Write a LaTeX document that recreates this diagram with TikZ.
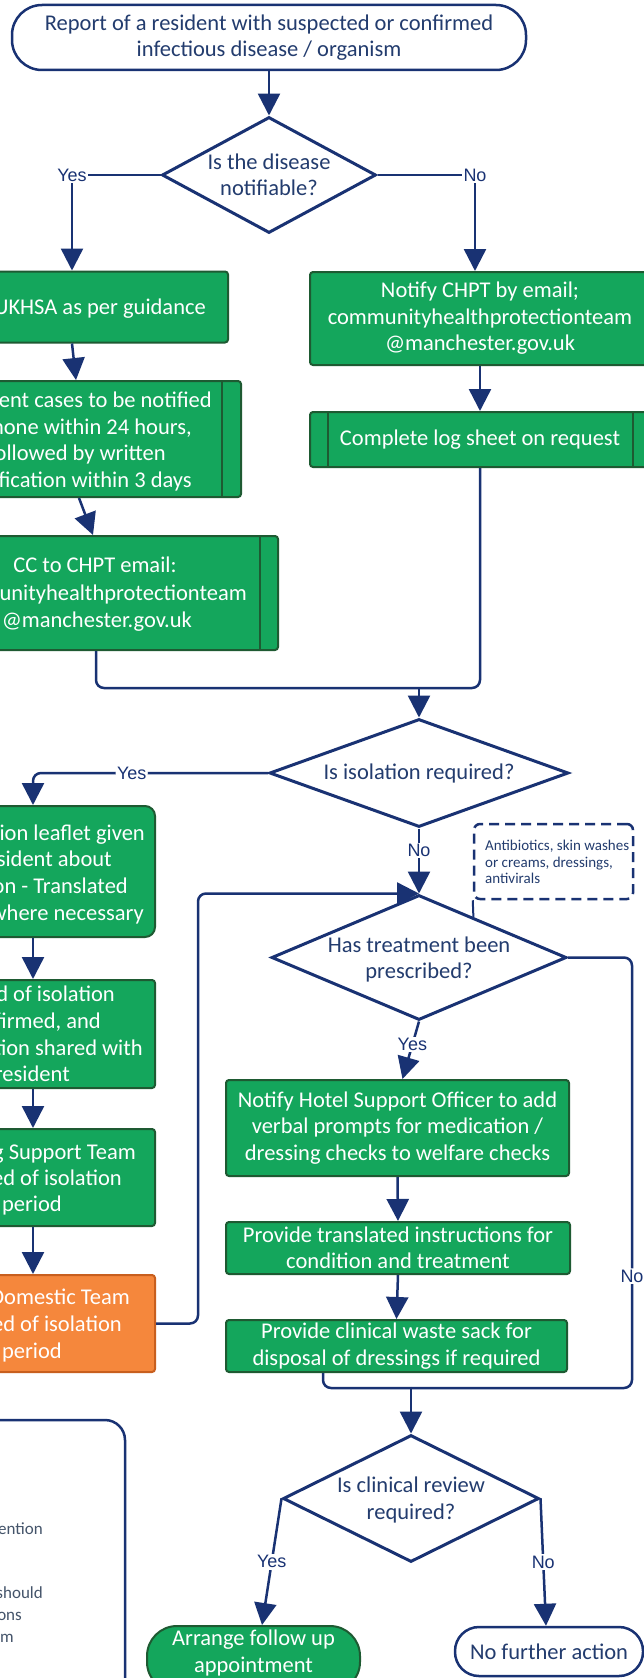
\documentclass[tikz,border=0pt]{standalone}
\usepackage{fontspec}
\setmainfont{Carlito}
\newfontfamily\lblfamily{Liberation Sans}
\usetikzlibrary{shapes.geometric,arrows.meta,calc}
\definecolor{navy}{RGB}{25,50,115}
\definecolor{navytext}{RGB}{35,60,110}
\definecolor{gfill}{RGB}{20,166,92}
\definecolor{gborder}{RGB}{30,90,50}
\definecolor{ofill}{RGB}{245,135,60}
\definecolor{oborder}{RGB}{200,95,30}
\definecolor{greytext}{RGB}{68,84,106}
\newcommand\mainsz{\fontsize{22.5}{26.5}\selectfont}
\tikzset{
  navyline/.style={draw=navy, line width=2.5pt},
  flowarrow/.style={navyline, -{Triangle[length=22pt,width=22pt]}},
  gbox/.style={draw=gborder, fill=gfill, line width=2pt, rounded corners=3pt, inner sep=0pt, text=white, align=center, font=\mainsz},
  obox/.style={gbox, draw=oborder, fill=ofill},
  decision/.style={diamond, draw=navy, line width=3pt, fill=white, inner sep=0pt},
  dtext/.style={text=navytext, align=center, font=\mainsz, inner sep=0pt},
  term/.style={draw=navy, line width=2.5pt, fill=white, inner sep=0pt, text=navytext, align=center, font=\mainsz},
  lbl/.style={fill=white, text=navy, font=\lblfamily\fontsize{18}{20}\selectfont, inner sep=1.5pt},
  frag/.style={text=white, font=\mainsz, inner sep=0pt, anchor=base east},
  gfrag/.style={text=greytext, font=\fontsize{17}{22}\selectfont, inner sep=0pt, anchor=base east},
  bar/.style={draw=gborder, line width=2pt},
}
\begin{document}
\begin{tikzpicture}[x=1pt,y=-1pt]
\useasboundingbox (0,0) rectangle (644,1678);
\clip (0,0) rectangle (644,1678);
\fill[white] (0,0) rectangle (644,1678);

% top terminator and first decision
\node[term, rounded corners=30pt, minimum width=514, minimum height=65] (top) at (269,37.5) {Report of a resident with suspected or confirmed\\infectious disease / organism};
\node[decision, minimum width=214, minimum height=116] (d1) at (269,175) {};
\node[dtext] at (d1.center) {Is the disease\\notifiable?};

% left column (notifiable)
\node[gbox, minimum width=288, minimum height=71] (ukhsa) at (84,307) {};
\node[frag] at (206,314) {UKHSA as per guidance};

\node[gbox, minimum width=301, minimum height=116] (b6) at (90.5,439) {};
\draw[bar] ($(b6.north east)+(-20,0)$) -- ($(b6.south east)+(-20,0)$);
\node[frag] at (212,407) {ent cases to be notified};
\node[frag] at (192,434) {hone within 24 hours,};
\node[frag] at (166,460) {ollowed by written};
\node[frag] at (192,487) {fication within 3 days};

\node[gbox, minimum width=338, minimum height=114] (cc) at (109,593) {};
\draw[bar] ($(cc.north east)+(-19,0)$) -- ($(cc.south east)+(-19,0)$);
\node[text=white, font=\mainsz, inner sep=0pt, anchor=base] at (95,572) {CC to CHPT email:};
\node[frag] at (247,600) {unityhealthprotectionteam};
\node[frag] at (192,627) {@manchester.gov.uk};

% right column (not notifiable)
\node[gbox, minimum width=340, minimum height=93] (chpt) at (480,318.5) {Notify CHPT by email;\\communityhealthprotectionteam\\@manchester.gov.uk};
\node[gbox, minimum width=340, minimum height=55] (log) at (480,439.5) {Complete log sheet on request};
\draw[bar] ($(log.north west)+(19,0)$) -- ($(log.south west)+(19,0)$);
\draw[bar] ($(log.north east)+(-18,0)$) -- ($(log.south east)+(-18,0)$);

% isolation decision
\node[decision, minimum width=299, minimum height=108] (d2) at (419,773) {};
\node[dtext] at (d2.center) {Is isolation required?};

% isolation column
\node[gbox, rounded corners=10pt, minimum width=275, minimum height=131] (b9) at (17.5,871.5) {};
\node[frag] at (145,840) {ion leaflet given};
\node[frag] at (112,866) {sident about};
\node[frag] at (128,893) {on - Translated};
\node[frag] at (144,920) {where necessary};

\node[gbox, minimum width=275, minimum height=108] (b10) at (17.5,1034) {};
\node[frag] at (115,1001) {d of isolation};
\node[frag] at (101,1028) {firmed, and};
\node[frag] at (143,1055) {tion shared with};
\node[frag] at (70,1081) {resident};

\node[gbox, minimum width=275, minimum height=97] (b11) at (17.5,1177.5) {};
\node[frag] at (136,1159) {g Support Team};
\node[frag] at (122,1185) {ed of isolation};
\node[frag] at (62,1211) {period};

\node[obox, minimum width=275, minimum height=97] (b12) at (17.5,1323.5) {};
\node[frag] at (130,1304) {Domestic Team};
\node[frag] at (122,1331) {ed of isolation};
\node[frag] at (62,1358) {period};

% treatment decision
\node[decision, minimum width=295, minimum height=125] (d3) at (419,957.5) {};
\node[dtext] at ($(d3.center)+(0,2)$) {Has treatment been\\prescribed?};

\node[draw=navy, line width=2.5pt, dash pattern=on 10pt off 6pt, rounded corners=6pt, minimum width=159, minimum height=75, inner sep=0pt] (note) at (553.5,861.5) {};
\node[anchor=west, align=left, text=navytext, font=\fontsize{15}{16.3}\selectfont, inner sep=0pt] at (485,862) {Antibiotics, skin washes\\or creams, dressings,\\antivirals};

\node[gbox, minimum width=343, minimum height=96] (hotel) at (397.5,1128) {Notify Hotel Support Officer to add\\verbal prompts for medication /\\dressing checks to welfare checks};
\node[gbox, minimum width=344, minimum height=52] (trans) at (398,1248) {Provide translated instructions for\\condition and treatment};
\node[gbox, minimum width=341, minimum height=52] (clin) at (396.5,1346) {Provide clinical waste sack for\\disposal of dressings if required};

% clinical review decision
\node[decision, minimum width=256, minimum height=127] (d4) at (411,1498.5) {};
\node[dtext] at ($(d4.center)+(0,1.5)$) {Is clinical review\\required?};

\node[gbox, rounded corners=30pt, minimum width=213, minimum height=66] (arrange) at (253.5,1659) {};
\node[text=white, align=center, font=\mainsz, inner sep=0pt] at (253.5,1653) {Arrange follow up\\appointment};
\node[term, rounded corners=24pt, minimum width=188, minimum height=49] (nfa) at (549,1651.5) {No further action};

% bottom-left box
\node[draw=navy, line width=2.5pt, rounded corners=20pt, minimum width=165, minimum height=300, inner sep=0pt] (leg) at (42.5,1570) {};
\node[gfrag] at (43,1534) {ention};
\node[gfrag] at (43,1598) {should};
\node[gfrag] at (22,1620) {ons};
\node[gfrag] at (14,1642) {m};

% connectors
\draw[flowarrow] (top.south) -- (d1.north);
\draw[flowarrow] (d1.west) -| node[lbl,pos=0.5]{Yes} ($(ukhsa.north)+(-12,0)$);
\draw[flowarrow] (d1.east) -| node[lbl,pos=0.5]{No} ($(chpt.north)+(-5,0)$);
\draw[flowarrow] ($(ukhsa.south)+(-12,0)$) -- ($(b6.north)+(-14.5,0)$);
\draw[flowarrow] ($(b6.south)+(-11.5,0)$) -- ($(cc.north)+(-16,0)$);
\draw[flowarrow] (chpt.south) -- (log.north);
\coordinate (m1) at (419,688);
\draw[navyline, rounded corners=8pt] ($(cc.south)+(-13,0)$) |- (m1) -| (log.south);
\draw[flowarrow] (m1) -- (d2.north);
\draw[flowarrow, rounded corners=8pt] (d2.west) -| node[lbl,pos=0.29]{Yes} ($(b9.north)+(15.5,0)$);
\draw[flowarrow] (d2.south) -- node[lbl,pos=0.34]{No} (d3.north);
\draw[flowarrow] ($(b9.south)+(15.5,0)$) -- ($(b10.north)+(15.5,0)$);
\draw[flowarrow] ($(b10.south)+(15.5,0)$) -- ($(b11.north)+(15.5,0)$);
\draw[flowarrow] ($(b11.south)+(15.5,0)$) -- ($(b12.north)+(15.5,0)$);
\draw[flowarrow, rounded corners=8pt] (b12.east) -- ++(42,0) |- (d3.north);
\draw[navyline, line width=2pt] (note.south west) -- ($(d3.north)!0.365!(d3.east)$);
\draw[flowarrow] (d3.south) -- node[lbl,pos=0.4]{Yes} ($(hotel.north)+(5,0)$);
\draw[flowarrow] (hotel.south) -- (trans.north);
\draw[flowarrow] (trans.south) -- (clin.north);
\coordinate (m2) at (411,1388);
\draw[navyline, rounded corners=8pt] (d3.east) -- (632,957.5) -- node[lbl,pos=0.74]{No} (632,1388) -- (m2);
\draw[navyline, rounded corners=8pt] ($(clin.south west)+(98,0)$) |- (m2);
\draw[flowarrow] (m2) -- (d4.north);
\draw[flowarrow] (d4.west) -- node[lbl]{Yes} ($(arrange.north)+(8.5,0)$);
\draw[flowarrow] (d4.east) -- node[lbl]{No} ($(nfa.north)+(-3,0)$);
\end{tikzpicture}
\end{document}
